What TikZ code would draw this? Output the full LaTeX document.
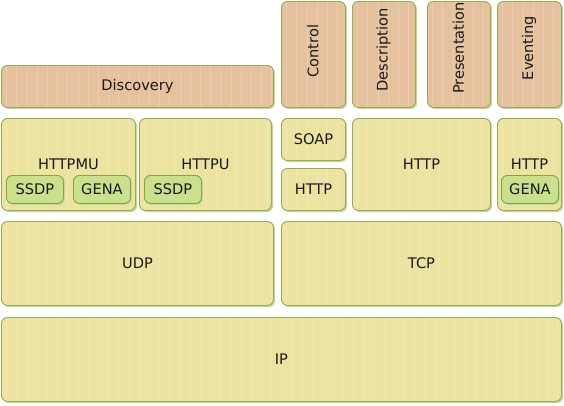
\documentclass[tikz,border=0pt]{standalone}
\usepackage{fontspec}
\setmainfont{DejaVu Sans}
\usetikzlibrary{shadows}
\definecolor{tanf}{HTML}{E6C19E}
\definecolor{yelf}{HTML}{EDE3A1}
\definecolor{grnf}{HTML}{C9E08C}
\definecolor{bord}{HTML}{93AE52}
\definecolor{grnb}{HTML}{86A43E}
\definecolor{shad}{HTML}{C6D69E}
\definecolor{txt}{HTML}{1A1A1A}
\begin{document}
\begin{tikzpicture}[x=1pt,y=-1pt,
  stripes/.style={path picture={
    \foreach \i in {0,...,56}{
      \draw[white,opacity=0.2,line width=0.7pt]
        ([xshift=\i*10.2pt+5pt]path picture bounding box.north west) --
        ([xshift=\i*10.2pt+5pt]path picture bounding box.south west);}}},
  layer/.style={rectangle, rounded corners=6pt, draw=bord, line width=0.9pt,
    inner sep=0pt, anchor=north west, text=txt,
    font=\fontsize{14.6}{17}\selectfont,
    drop shadow={shadow xshift=1.6pt, shadow yshift=-1.6pt, fill=shad, opacity=1},
    stripes},
  upper/.style={layer, fill=tanf},
  lower/.style={layer, fill=yelf},
  inner/.style={rectangle, rounded corners=6pt, draw=grnb, line width=0.9pt,
    fill=grnf, inner sep=0pt, anchor=north west, text=txt,
    font=\fontsize{14.6}{17}\selectfont,
    minimum width=57pt, minimum height=28pt,
    drop shadow={shadow xshift=1.4pt, shadow yshift=-1.4pt, fill=shad, opacity=1}},
  vlabel/.style={rotate=90, text=txt, font=\fontsize{14.6}{17}\selectfont, inner sep=0pt}
]
\useasboundingbox (0,0) rectangle (564,405);

% top row
\node[upper, minimum width=64pt, minimum height=106pt] (control) at (281,1) {};
\node[upper, minimum width=63pt, minimum height=106pt] (descr) at (352,1) {};
\node[upper, minimum width=63pt, minimum height=106pt] (pres) at (427,1) {};
\node[upper, minimum width=64pt, minimum height=106pt] (event) at (497,1) {};
\node[vlabel] (controlT) at (313,51) {Control};
\node[vlabel] (descrT) at (383.5,50) {Description};
\node[vlabel] (presT) at (458.5,48) {Presentation};
\node[vlabel] (eventT) at (529,48) {Eventing};
\node[upper, minimum width=272pt, minimum height=42pt] (disc) at (1,65) {Discovery};

% second row
\node[lower, minimum width=134pt, minimum height=92pt] (httpmu) at (1,118) {HTTPMU};
\node[lower, minimum width=132pt, minimum height=92pt] (httpu) at (139,118) {HTTPU};
\node[lower, minimum width=64pt, minimum height=42pt] (soap) at (281,118) {SOAP};
\node[lower, minimum width=64pt, minimum height=42pt] (httpa) at (281,168) {HTTP};
\node[lower, minimum width=138pt, minimum height=92pt] (httpb) at (352,118) {HTTP};
\node[lower, minimum width=64pt, minimum height=92pt] (httpc) at (497,118) {HTTP};

\node[inner] (ssdpa) at (6,175) {SSDP};
\node[inner] (genaa) at (73,175) {GENA};
\node[inner] (ssdpb) at (144,175) {SSDP};
\node[inner] (genab) at (501,175) {GENA};

% transport
\node[lower, minimum width=272pt, minimum height=84pt] (udp) at (1,221) {UDP};
\node[lower, minimum width=280pt, minimum height=84pt] (tcp) at (281,221) {TCP};

% network
\node[lower, minimum width=560pt, minimum height=84pt] (ip) at (1,317) {IP};
\end{tikzpicture}
\end{document}
